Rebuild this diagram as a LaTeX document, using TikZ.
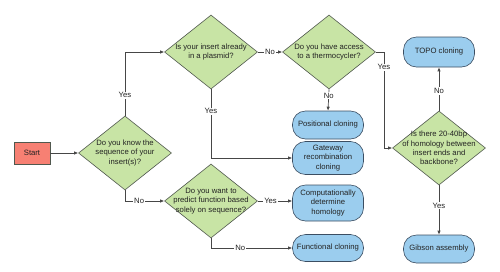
\documentclass[tikz,border=0pt]{standalone}
\usepackage{fontspec}
\setmainfont{Liberation Sans}
\usetikzlibrary{arrows.meta,shapes.geometric}
\definecolor{decfill}{RGB}{200,228,165}
\definecolor{decline}{RGB}{80,88,78}
\definecolor{endfill}{RGB}{155,205,238}
\definecolor{endline}{RGB}{60,78,98}
\definecolor{startfill}{RGB}{247,128,115}
\definecolor{flowline}{RGB}{70,70,70}
\definecolor{labelink}{RGB}{35,35,35}

\begin{document}
\begin{tikzpicture}[
  x=1pt, y=-1pt,
  >={Latex[length=4pt,width=3.4pt]},
  every node/.style={font=\fontsize{7.7}{9.2}\selectfont, text=labelink, align=center},
  decision/.style={diamond, draw=decline, fill=decfill, line width=0.6pt,
    inner sep=-12pt, minimum width=93pt, minimum height=74pt},
  outcome/.style={rectangle, rounded corners=13pt, draw=endline, fill=endfill,
    line width=0.6pt, minimum width=71pt, minimum height=28pt, inner xsep=1pt},
  startbox/.style={rectangle, draw=decline, fill=startfill, line width=0.6pt,
    minimum width=36pt, minimum height=22pt},
  flow/.style={draw=flowline, line width=0.7pt, ->},
  lbl/.style={fill=white, inner sep=1pt},
]

  % Frame of the picture (pixel grid of the reference)
  \path[use as bounding box] (0,0) rectangle (500,271);

  % --- Start ---
  \node[startbox] (start) at (32,153) {Start};

  % --- Decisions ---
  \node[decision] (known) at (125,153) {Do you know the\\sequence of your\\insert(s)?};
  \node[decision] (plasmid) at (211,52) {Is your insert already\\in a plasmid?};
  \node[decision] (thermo) at (329,52) {Do you have access\\to a thermocycler?};
  \node[decision] (predict) at (211,201) {Do you want to\\predict function based\\solely on sequence?};
  \node[decision] (homol) at (439,148) {Is there 20-40bp\\of homology between\\insert ends and\\backbone?};

  % --- Outcomes ---
  \node[outcome] (posit) at (328,125) {Positional cloning};
  \node[outcome, minimum height=33pt] (gateway) at (328,158) {Gateway\\recombination\\cloning};
  \node[outcome, minimum height=36pt] (comput) at (328,203) {Computationally\\determine\\homology};
  \node[outcome, minimum height=27pt] (funct) at (328,248) {Functional cloning};
  \node[outcome, minimum height=30pt] (topo) at (439,52) {TOPO cloning};
  \node[outcome] (gibson) at (439,249) {Gibson assembly};

  % --- Connectors ---
  \draw[flow] (start) -- (known);
  \draw[flow] (known.north) |- node[lbl, pos=0.16] {Yes} (plasmid.west);
  \draw[flow] (known.south) |- node[lbl, pos=0.68] {No} (predict.west);

  \draw[flow] (plasmid.east) -- node[lbl] {No} (thermo.west);
  \draw[flow] (plasmid.south) |- node[lbl, pos=0.16] {Yes} (gateway.west);

  \draw[flow] (thermo.south) -- node[lbl, pos=0.3] {No} (posit.north);
  \coordinate (turn) at (384,52);
  \draw[flow] (thermo.east) -- (turn) |- node[lbl, pos=0.08] {Yes} (homol.west);

  \draw[flow] (predict.east) -- node[lbl, pos=0.37] {Yes} (predict.east -| comput.west);
  \draw[flow] (predict.south) |- node[lbl, pos=0.68] {No} (funct.west);

  \draw[flow] (homol.north) -- node[lbl, pos=0.45] {No} (topo.south);
  \draw[flow] (homol.south) -- node[lbl, pos=0.41] {Yes} (gibson.north);

\end{tikzpicture}
\end{document}
